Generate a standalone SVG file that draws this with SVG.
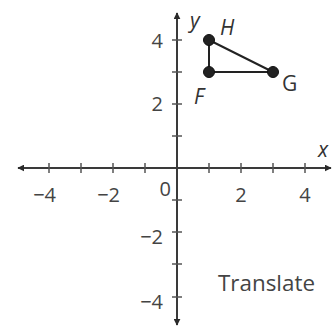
<svg xmlns="http://www.w3.org/2000/svg" width="336" height="328" viewBox="0 0 336 328">
<style>
.ax{stroke:#3a3a3a;stroke-width:2;fill:none}
.tk{stroke:#555;stroke-width:1.5}
.num{font-family:"Open Sans","Liberation Sans",sans-serif;font-size:20px;fill:#444}
.lbl{font-family:"Open Sans","Liberation Sans",sans-serif;font-size:21px;fill:#333;font-style:italic}
.edge{stroke:#222;stroke-width:2;fill:none}
.pt{fill:#222;stroke:#111;stroke-width:1}
</style>
<defs>
<marker id="ah" viewBox="0 0 10 10" refX="9" refY="5" markerWidth="7" markerHeight="7" orient="auto-start-reverse" markerUnits="userSpaceOnUse">
<path d="M0,0 L10,5 L0,10 z" fill="#2a2a2a"/>
</marker>
</defs>
<rect width="336" height="328" fill="#fff"/>
<g id="axes">
<line class="ax" x1="18" y1="168" x2="331" y2="168" marker-start="url(#ah)" marker-end="url(#ah)"/>
<line class="ax" x1="177" y1="13" x2="177" y2="325" marker-start="url(#ah)" marker-end="url(#ah)"/>
<g class="tk">
<line x1="49" y1="163" x2="49" y2="173"/><line x1="81" y1="163" x2="81" y2="173"/><line x1="113" y1="163" x2="113" y2="173"/><line x1="145" y1="163" x2="145" y2="173"/>
<line x1="209" y1="163" x2="209" y2="173"/><line x1="241" y1="163" x2="241" y2="173"/><line x1="273" y1="163" x2="273" y2="173"/><line x1="305" y1="163" x2="305" y2="173"/>
<line x1="172" y1="40" x2="182" y2="40"/><line x1="172" y1="72" x2="182" y2="72"/><line x1="172" y1="104" x2="182" y2="104"/><line x1="172" y1="136" x2="182" y2="136"/>
<line x1="172" y1="200" x2="182" y2="200"/><line x1="172" y1="232" x2="182" y2="232"/><line x1="172" y1="264" x2="182" y2="264"/><line x1="172" y1="297" x2="182" y2="297"/>
</g>
<g class="num">
<text x="163" y="48" text-anchor="end">4</text>
<text x="163" y="111" text-anchor="end">2</text>
<text x="163" y="244" text-anchor="end">−2</text>
<text x="163" y="309" text-anchor="end">−4</text>
<text x="56" y="202" text-anchor="end">−4</text>
<text x="120" y="202" text-anchor="end">−2</text>
<text x="171" y="196" text-anchor="end">0</text>
<text x="241" y="202" text-anchor="middle">2</text>
<text x="305" y="202" text-anchor="middle">4</text>
</g>
<text class="lbl" x="190" y="28">y</text>
<text class="lbl" x="318" y="157">x</text>
</g>
<g id="connectors">
<line class="edge" x1="209" y1="40" x2="209" y2="72"/>
<line class="edge" x1="209" y1="72" x2="273" y2="72"/>
<line class="edge" x1="209" y1="40" x2="273" y2="72"/>
</g>
<g id="node-H"><circle class="pt" cx="209" cy="40" r="5.5"/><text class="lbl" x="220" y="35">H</text></g>
<g id="node-F"><circle class="pt" cx="209" cy="72" r="5.5"/><text class="lbl" x="194" y="104">F</text></g>
<g id="node-G"><circle class="pt" cx="273" cy="72" r="5.5"/><text class="lbl" x="282" y="91" style="font-style:normal">G</text></g>
<text class="num" x="218" y="291" style="font-size:21px" textLength="97" lengthAdjust="spacingAndGlyphs">Translate</text>
</svg>
